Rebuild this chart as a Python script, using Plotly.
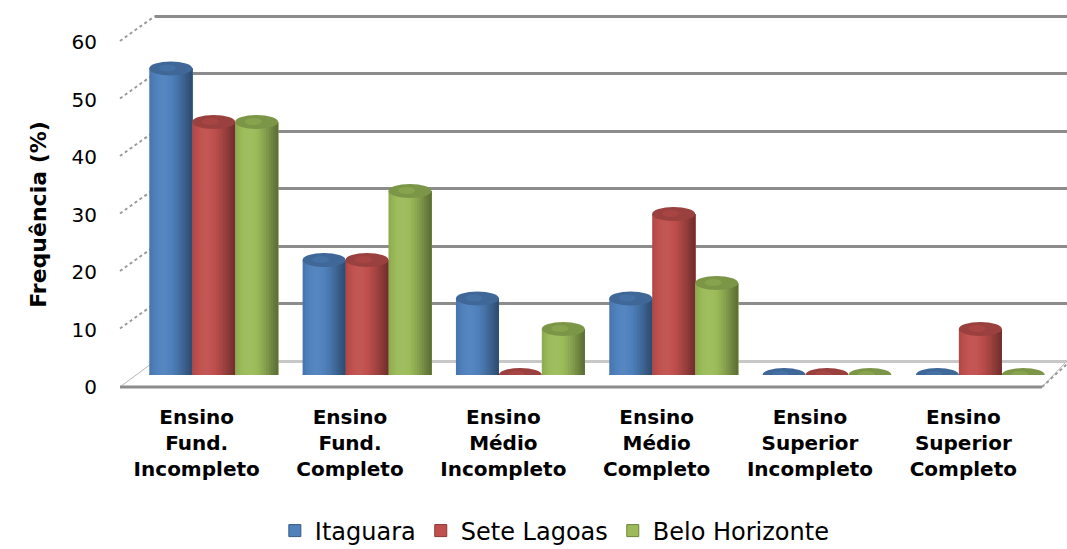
import math
import plotly.graph_objects as go

# ---- data -------------------------------------------------------------
categories = [
    "Ensino<br>Fund.<br>Incompleto",
    "Ensino<br>Fund.<br>Completo",
    "Ensino<br>Médio<br>Incompleto",
    "Ensino<br>Médio<br>Completo",
    "Ensino<br>Superior<br>Incompleto",
    "Ensino<br>Superior<br>Completo",
]
itaguara = [53.3, 20.0, 13.3, 13.3, 0.0, 0.0]
sete_lagoas = [44.0, 20.0, 0.0, 28.0, 0.0, 8.0]
belo_horizonte = [44.0, 32.0, 8.0, 16.0, 0.0, 0.0]
y_ticks = [0, 10, 20, 30, 40, 50, 60]

series = [
    ("Itaguara", itaguara, (79, 129, 189)),
    ("Sete Lagoas", sete_lagoas, (192, 80, 77)),
    ("Belo Horizonte", belo_horizonte, (155, 187, 89)),
]

# ---- geometry (pixels on a 1067 x 549 canvas) ---------------------------
W, H = 1067, 549
FONT = "DejaVu Sans"
UNIT = 5.75          # pixels per percentage point on every value axis


def px(x):
    return x / W


def py(y):
    return 1 - y / H


def shade(rgb, f):
    """Darken (f<1) or lighten towards white (f>1) an RGB tuple."""
    if f <= 1:
        r, g, b = (c * f for c in rgb)
    else:
        k = min(f - 1, 1)
        r, g, b = (c + (255 - c) * k for c in rgb)
    return "rgb(%d,%d,%d)" % (round(r), round(g), round(b))


idx = list(range(len(categories)))
fig = go.Figure()

# back wall subplot (gridlines only)
fig.add_trace(go.Scatter(x=[0], y=[0], xaxis="x", yaxis="y", mode="markers",
                         marker=dict(opacity=0), showlegend=False, hoverinfo="skip"))
# front axis subplot (tick labels)
fig.add_trace(go.Scatter(x=[0], y=[0], xaxis="x2", yaxis="y2", mode="markers",
                         marker=dict(opacity=0), showlegend=False, hoverinfo="skip"))

# cylinders: each bar drawn as overlapping vertical bands with cylindrical shading
n_series = len(series)
slot = 0.84 / n_series          # width of one cylinder in category units
n_stripes = 18
shapes = []
for k, (name, vals, rgb) in enumerate(series):
    left = -0.42 + k * slot
    for s in range(n_stripes):
        t = (s + 0.5) / n_stripes
        theta = (t - 0.5) * math.pi
        f = 0.74 + 0.30 * math.cos(theta + 0.55)
        start = left + s * slot / n_stripes
        fig.add_trace(go.Bar(
            x=idx, y=vals, xaxis="x3", yaxis="y3",
            offset=start, width=left + slot - start,
            marker=dict(color=shade(rgb, f), line=dict(width=0)),
            showlegend=False, hoverinfo="skip",
        ))
    for i, v in enumerate(vals):
        x0 = i + left
        x1 = i + left + slot
        if v > 0:
            # rounded base of the cylinder
            shapes.append(dict(type="circle", xref="x3", yref="y3",
                               ysizemode="pixel", yanchor=0, y0=-6, y1=6,
                               x0=x0, x1=x1, fillcolor=shade(rgb, 0.85),
                               line=dict(width=0), layer="below"))
        # top face of the cylinder
        shapes.append(dict(type="circle", xref="x3", yref="y3",
                           ysizemode="pixel", yanchor=v, y0=-7, y1=7,
                           x0=x0, x1=x1, fillcolor=shade(rgb, 0.80),
                           line=dict(width=0), layer="above"))
        shapes.append(dict(type="circle", xref="x3", yref="y3",
                           ysizemode="pixel", yanchor=v, y0=-3, y1=4,
                           x0=x0 + slot * 0.22, x1=x0 + slot * 0.62,
                           fillcolor=shade(rgb, 0.92), opacity=0.6,
                           line=dict(width=0), layer="above"))
    # legend entry
    fig.add_trace(go.Bar(x=[None], y=[None], xaxis="x3", yaxis="y3", name=name,
                         marker=dict(color=shade(rgb, 1.0),
                                     line=dict(color=shade(rgb, 0.7), width=1))))

# floor panel
shapes.append(dict(type="path", xref="paper", yref="paper",
                   path="M %f,%f L %f,%f L %f,%f L %f,%f Z" % (
                       px(120), py(387), px(155), py(361),
                       px(1067), py(361), px(1042), py(387)),
                   fillcolor="white", line=dict(color="#b8b8b8", width=1),
                   layer="below"))
shapes.append(dict(type="line", xref="paper", yref="paper",
                   x0=px(120), x1=px(1042), y0=py(387), y1=py(387),
                   line=dict(color="#8c8c8c", width=3), layer="below"))
shapes.append(dict(type="line", xref="paper", yref="paper",
                   x0=px(1042), x1=px(1067), y0=py(387), y1=py(364),
                   line=dict(color="#9a9a9a", width=2, dash="dot"), layer="below"))
# depth ticks joining the value axis to the back wall
for v in y_ticks:
    shapes.append(dict(type="line", xref="paper", yref="y",
                       ysizemode="pixel", yanchor=v, y0=-25, y1=0,
                       x0=px(120), x1=px(155),
                       line=dict(color="#9a9a9a", width=2, dash="dot"),
                       layer="below"))

wall_top = 60.4
fig.update_layout(
    width=W, height=H,
    margin=dict(l=0, r=0, t=0, b=0, autoexpand=False),
    paper_bgcolor="white", plot_bgcolor="rgba(0,0,0,0)",
    barmode="overlay",
    shapes=shapes,
    font=dict(family=FONT, color="black"),
    # back wall
    xaxis=dict(domain=[px(155), 1], range=[0, 1], visible=False, fixedrange=True),
    yaxis=dict(domain=[py(361), py(361 - UNIT * wall_top)], range=[0, wall_top],
               tickvals=y_ticks,
               showgrid=True, gridcolor="#8c8c8c", gridwidth=3,
               zeroline=True, zerolinecolor="#c8c8c8", zerolinewidth=3,
               showticklabels=False, ticks="", anchor="x"),
    # front axis with labels
    xaxis2=dict(domain=[px(120), px(1040)], range=[-0.5, 5.5], anchor="y2",
                tickvals=idx, ticktext=categories, showgrid=False, zeroline=False,
                showline=False, ticks="", ticklabelstandoff=16,
                tickfont=dict(family=FONT, size=20, color="black", weight="bold")),
    yaxis2=dict(domain=[py(387), py(387 - UNIT * 60)], range=[0, 60], anchor="x2",
                tickvals=y_ticks, showgrid=False, zeroline=False, showline=False,
                ticks="", ticklabelstandoff=22,
                tickfont=dict(family=FONT, size=20, color="black"),
                title=dict(text="Frequência (%)", standoff=18,
                           font=dict(family=FONT, size=22, color="black",
                                     weight="bold"))),
    # cylinders
    xaxis3=dict(domain=[px(137), px(1057)], range=[-0.5, 5.5], anchor="y3",
                visible=False),
    yaxis3=dict(domain=[py(375), py(375 - UNIT * 60)], range=[0, 60], anchor="x3",
                visible=False),
    legend=dict(orientation="h", x=0.52, xanchor="center", y=py(531),
                yanchor="middle", font=dict(family=FONT, size=24, color="black"),
                itemwidth=30, tracegroupgap=0, bgcolor="rgba(0,0,0,0)"),
)

fig.write_html("out.html")
